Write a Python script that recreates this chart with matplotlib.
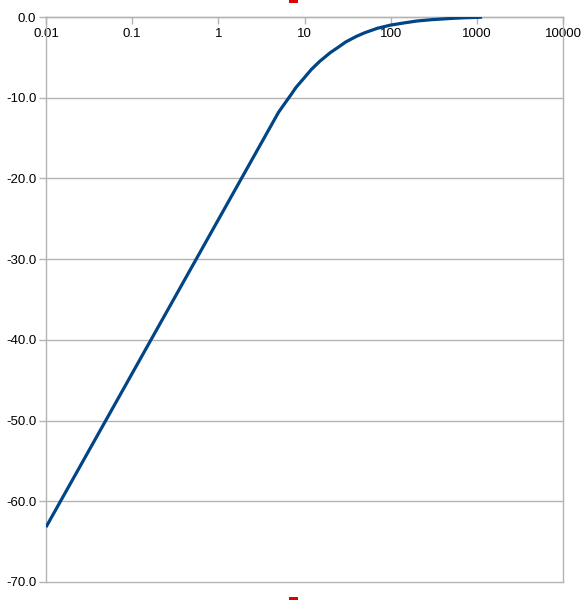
import matplotlib
matplotlib.use("Agg")
import matplotlib.pyplot as plt
from matplotlib.patches import Rectangle
from matplotlib.ticker import FixedLocator, FixedFormatter, FuncFormatter, NullLocator

plt.rcParams['font.family'] = ['Liberation Sans', 'DejaVu Sans']

# Data
freq = [0.01, 5, 6, 7, 8, 10, 12, 15, 20, 25, 30, 40, 50, 70, 100, 150, 200,
        300, 500, 700, 1000, 1150]
level = [-63.2, -11.8, -10.6, -9.6, -8.7, -7.5, -6.5, -5.5, -4.4, -3.7, -3.1,
         -2.4, -1.95, -1.4, -1.0, -0.7, -0.5, -0.33, -0.18, -0.1, -0.05, -0.02]

x_ticks = [0.01, 0.1, 1, 10, 100, 1000, 10000]
x_tick_labels = ["0.01", "0.1", "1", "10", "100", "1000", "10000"]
y_ticks = [0, -10, -20, -30, -40, -50, -60, -70]

grey = "#b3b3b3"
blue = "#004586"

fig = plt.figure(figsize=(5.85, 6.0), dpi=100)
ax = fig.add_axes([46 / 585, 1 - 582 / 600, (563 - 46) / 585, (582 - 17) / 600])

ax.plot(freq, level, color=blue, linewidth=2.3, solid_capstyle="butt",
        solid_joinstyle="round", zorder=3)

ax.set_xscale("log")
ax.set_xlim(0.01, 10000)
ax.set_ylim(-70, 0)

ax.xaxis.set_major_locator(FixedLocator(x_ticks))
ax.xaxis.set_major_formatter(FixedFormatter(x_tick_labels))
ax.xaxis.set_minor_locator(NullLocator())
ax.yaxis.set_major_locator(FixedLocator(y_ticks))
ax.yaxis.set_major_formatter(FuncFormatter(lambda v, p: f"{v:.1f}"))

ax.grid(axis="y", color=grey, linewidth=1.0, zorder=1)
ax.grid(axis="x", visible=False)
ax.set_axisbelow(True)
for gl in ax.yaxis.get_gridlines():
    gl.set_clip_on(False)

ax.spines["top"].set_visible(False)
ax.spines["bottom"].set_position(("data", 0))
for s in ("left", "right", "bottom"):
    ax.spines[s].set_color(grey)
    ax.spines[s].set_linewidth(1.0)

ax.tick_params(axis="x", direction="out", length=5, width=1, color=grey,
               pad=3, labelsize=9.5, labelcolor="black")
ax.tick_params(axis="y", direction="out", length=5, width=1, color=grey,
               pad=2, labelsize=9.5, labelcolor="black")

# small red markers at top and bottom centre
fig.patches.append(Rectangle((289 / 585, 1 - 3 / 600), 9 / 585, 3 / 600,
                             transform=fig.transFigure, facecolor="#e00000",
                             edgecolor="none"))
fig.patches.append(Rectangle((289 / 585, 0), 9 / 585, 3 / 600,
                             transform=fig.transFigure, facecolor="#e00000",
                             edgecolor="none"))

fig.savefig("out.png", dpi=100)
